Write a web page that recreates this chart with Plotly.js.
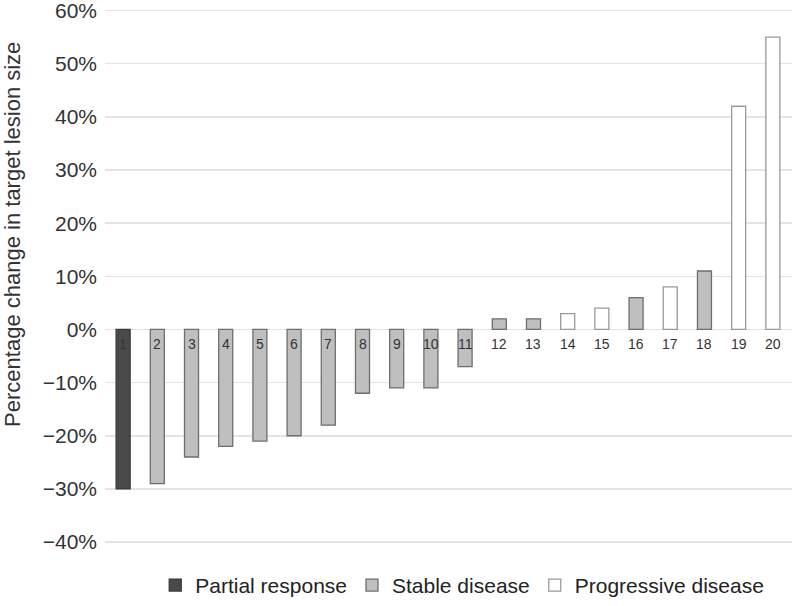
<!DOCTYPE html>
<html>
<head>
<meta charset="utf-8">
<script src="https://cdn.plot.ly/plotly-3.0.1.min.js"></script>
<style>html,body{margin:0;padding:0;background:#fff;}#chart{width:792px;height:606px;}</style>
</head>
<body>
<div id="chart"></div>
<script>
const patients = [1,2,3,4,5,6,7,8,9,10,11,12,13,14,15,16,17,18,19,20];
const changes = [-30,-29,-24,-22,-21,-20,-18,-12,-11,-11,-7,2,2,3,4,6,8,11,42,55];
const responses = ["PR","SD","SD","SD","SD","SD","SD","SD","SD","SD","SD","SD","SD","PD","PD","SD","PD","SD","PD","PD"];
const groupCodes = ["PR","SD","PD"];
const groupNames = ["Partial response","Stable disease","Progressive disease"];
const yTicks = [-40,-30,-20,-10,0,10,20,30,40,50,60];
const yTickLabels = ["\u221240%","\u221230%","\u221220%","\u221210%","0%","10%","20%","30%","40%","50%","60%"];
const yTitle = "Percentage change in target lesion size";
const labelY = -2.7;

const FONT = "Liberation Sans, Arial, Helvetica, sans-serif";
const styles = {
  PR: {fill:"#4a4a4a", line:"#3a3a3a"},
  SD: {fill:"#bfbfbf", line:"#6e6e6e"},
  PD: {fill:"#ffffff", line:"#9a9a9a"}
};

const traces = groupCodes.map((g,gi) => {
  const xs=[], ys=[];
  patients.forEach((p,i)=>{ if(responses[i]===g){xs.push(p); ys.push(changes[i]);} });
  return {
    type:"bar", name:groupNames[gi], x:xs, y:ys, width:0.41,
    marker:{color:styles[g].fill, line:{color:styles[g].line, width:1.3}},
    hoverinfo:"x+y"
  };
});

const annotations = patients.map(p => ({
  x:p, y:labelY, xref:"x", yref:"y", text:String(p), showarrow:false,
  font:{family:FONT, size:14, color:"#333"}
}));
annotations.push({
  x:-0.135, y:0.589, xref:"paper", yref:"paper", xanchor:"center", yanchor:"middle",
  text:yTitle, textangle:-90, showarrow:false,
  font:{family:FONT, size:22, color:"#333"}
});

const layout = {
  width:792, height:606,
  margin:{l:105, r:0, t:9, b:44},
  paper_bgcolor:"#fff", plot_bgcolor:"#fff",
  barmode:"overlay",
  showlegend:true,
  legend:{orientation:"h", x:0.52, xanchor:"center", y:-0.05, yanchor:"middle",
    font:{family:FONT, size:21, color:"#222"},
    traceorder:"normal", itemwidth:20},
  xaxis:{range:[0.47,20.56], showticklabels:false, showgrid:false, zeroline:false, showline:false, ticks:""},
  yaxis:{range:[-43,60.3], tickmode:"array", tickvals:yTicks, ticktext:yTickLabels, showgrid:true, gridcolor:"#e4e4e4", gridwidth:1.5,
    zeroline:true, zerolinecolor:"#e4e4e4", zerolinewidth:1.5, showline:false, ticks:"", ticklabeloverflow:"allow",
    ticklabelstandoff:7,
    tickfont:{family:FONT, size:21, color:"#333"}},
  annotations:annotations
};

Plotly.newPlot("chart", traces, layout, {displayModeBar:false, staticPlot:true});
</script>
</body>
</html>
